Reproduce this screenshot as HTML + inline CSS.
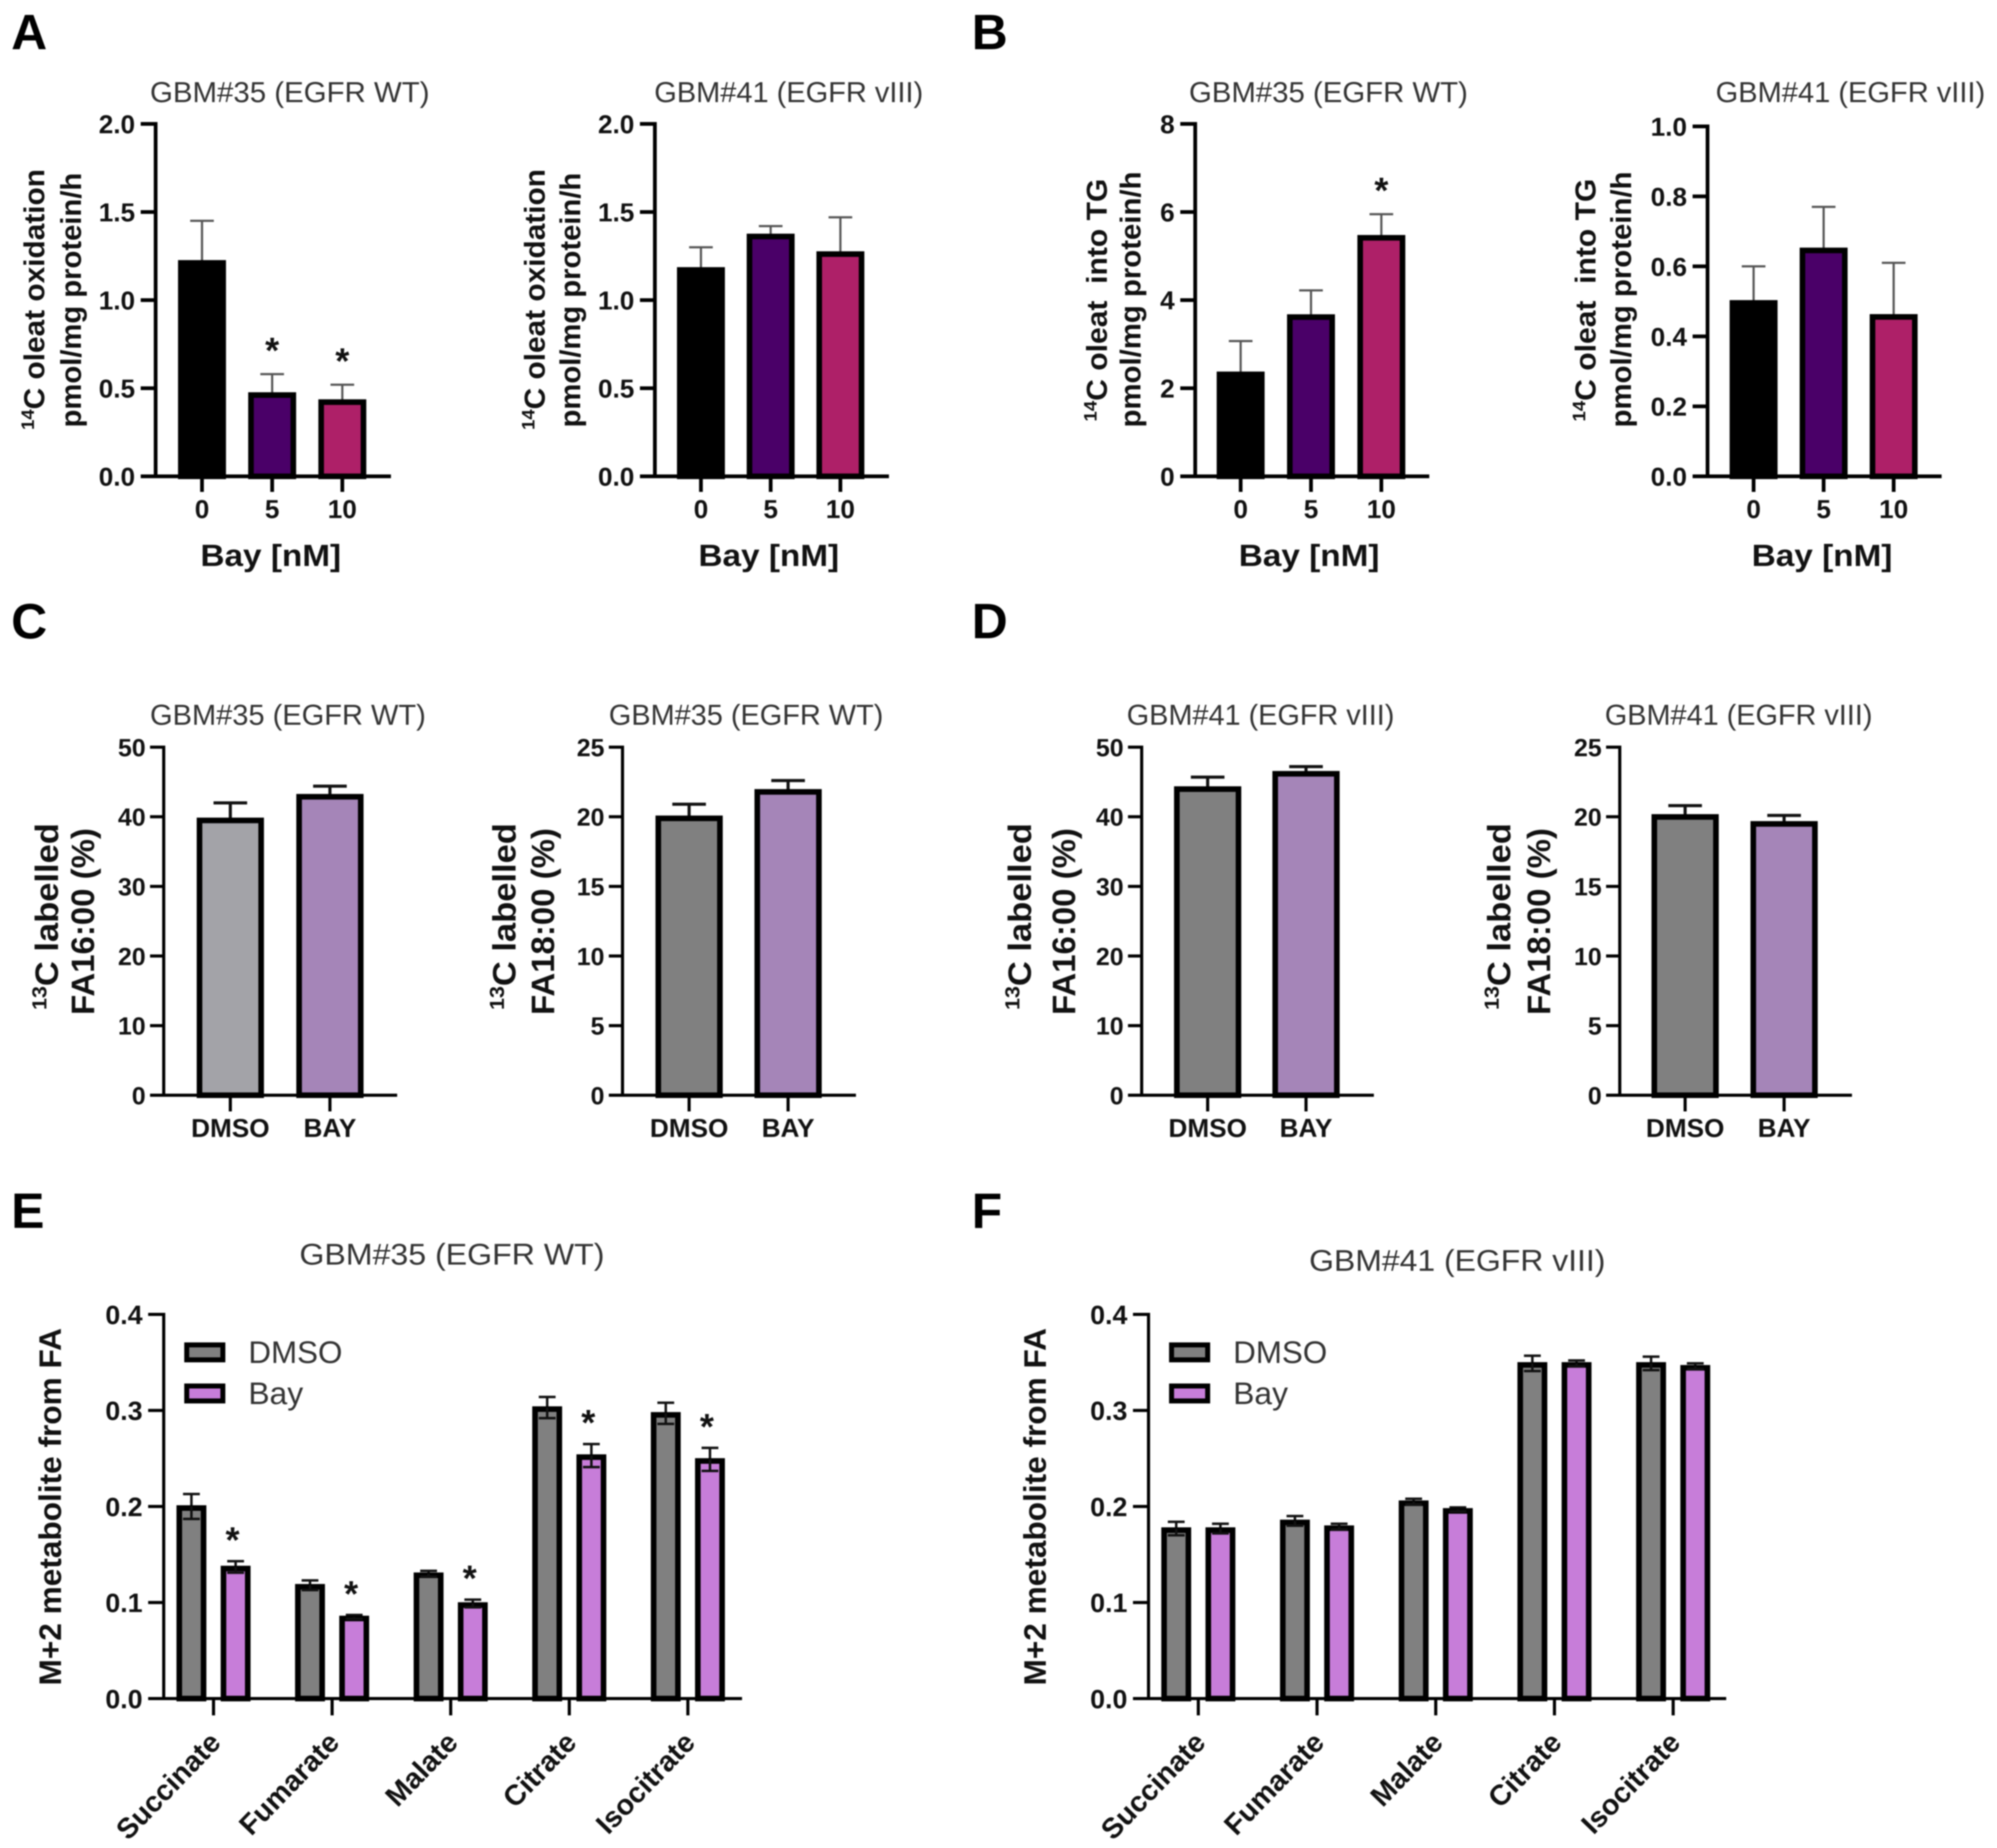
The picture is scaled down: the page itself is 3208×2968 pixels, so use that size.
<!DOCTYPE html>
<html lang="en">
<head>
<meta charset="utf-8">
<title>Bay treatment fatty acid metabolism figure</title>
<style>
html,body{margin:0;padding:0;background:#fff;width:3208px;height:2968px;overflow:hidden}
svg{display:block;filter:blur(1.1px)}
text{font-family:"Liberation Sans",Arial,sans-serif;white-space:pre}
</style>
</head>
<body>
<svg id="figure" xmlns="http://www.w3.org/2000/svg" width="3208" height="2968" viewBox="0 0 3208 2968"></svg>
<script>
// ---------- categories ----------
const doseCategories = ['0', '5', '10'];
const treatmentCategories = ['DMSO', 'BAY'];
const metaboliteCategories = ['Succinate', 'Fumarate', 'Malate', 'Citrate', 'Isocitrate'];
// ---------- tick labels ----------
const oxidationTicks = ['0.0', '0.5', '1.0', '1.5', '2.0'];
const tgTicksB1 = ['0', '2', '4', '6', '8'];
const tgTicksB2 = ['0.0', '0.2', '0.4', '0.6', '0.8', '1.0'];
const fa16Ticks = ['0', '10', '20', '30', '40', '50'];
const fa18Ticks = ['0', '5', '10', '15', '20', '25'];
const metaboliteTicks = ['0.0', '0.1', '0.2', '0.3', '0.4'];
// ---------- series values ----------
const a1Values = [1.22, 0.47, 0.43];
const a1Errors = [0.23, 0.11, 0.09];
const a2Values = [1.18, 1.37, 1.27];
const a2Errors = [0.12, 0.05, 0.20];
const b1Values = [2.35, 3.65, 5.45];
const b1Errors = [0.72, 0.57, 0.50];
const b2Values = [0.50, 0.65, 0.46];
const b2Errors = [0.10, 0.12, 0.15];
const c1Values = [39.7, 43.1];
const c1Errors = [2.3, 1.3];
const c2Values = [20.0, 21.9];
const c2Errors = [0.9, 0.7];
const d1Values = [44.2, 46.4];
const d1Errors = [1.5, 0.8];
const d2Values = [20.1, 19.6];
const d2Errors = [0.7, 0.5];
const eDmsoValues = [0.200, 0.118, 0.130, 0.303, 0.297];
const eDmsoErrors = [0.013, 0.005, 0.003, 0.011, 0.011];
const eBayValues = [0.137, 0.085, 0.099, 0.253, 0.249];
const eBayErrors = [0.006, 0.002, 0.004, 0.012, 0.012];
const fDmsoValues = [0.177, 0.185, 0.205, 0.349, 0.349];
const fDmsoErrors = [0.007, 0.005, 0.003, 0.008, 0.007];
const fBayValues = [0.177, 0.179, 0.197, 0.349, 0.346];
const fBayErrors = [0.005, 0.003, 0.002, 0.003, 0.003];
// ---------- significance flags ----------
const a1Stars = [false, true, true];
const b1Stars = [false, false, true];
const eStars = [true, true, true, true, true];

const NS = 'http://www.w3.org/2000/svg';
const svg = document.getElementById('figure');
const doseColors = ['#000000', '#4a0068', '#ae2068'];

function node(parent, tag, attrs) {
  const el = document.createElementNS(NS, tag);
  for (const k in attrs) el.setAttribute(k, attrs[k]);
  parent.appendChild(el);
  return el;
}
function line(parent, x1, y1, x2, y2, stroke, w) {
  return node(parent, 'line', {x1: x1, y1: y1, x2: x2, y2: y2, stroke: stroke, 'stroke-width': w});
}
function label(parent, str, x, y, opts) {
  const o = opts || {};
  const a = {x: 0, y: 0, 'font-size': o.size || 40, 'font-weight': o.weight || 'bold', fill: o.fill || '#111',
    'text-anchor': o.anchor || 'middle', transform: 'translate(' + x + ',' + y + ') rotate(' + (o.rot || 0) + ')'};
  if (o.len) { a.textLength = o.len; a.lengthAdjust = 'spacingAndGlyphs'; }
  const el = node(parent, 'text', a);
  el.textContent = str;
  return el;
}
function supLabel(parent, sup, str, x, y, opts) {
  // Rotated y-axis line with a superscript isotope number.
  const a = {x: 0, y: 0, 'font-size': opts.size, 'font-weight': 'bold', fill: '#111', 'text-anchor': 'middle',
    transform: 'translate(' + x + ',' + y + ') rotate(-90)', textLength: opts.len, lengthAdjust: 'spacingAndGlyphs'};
  const el = node(parent, 'text', a);
  const s = node(el, 'tspan', {'font-size': opts.size * 0.62, dy: -opts.size * 0.36});
  s.textContent = sup;
  const t = node(el, 'tspan', {dy: opts.size * 0.36});
  t.textContent = str;
  return el;
}
function yScale(p, v) {
  return p.y0 - (v / p.yMax) * (p.y0 - p.yTop);
}
function xScale(p, i) {
  return p.x0 + i * p.step;
}

function drawAxes(g, p) {
  const axisY = node(g, 'line', {x1: p.axis, y1: p.yTop - p.axisW / 2, x2: p.axis, y2: p.y0 + p.axisW / 2, stroke: '#000', 'stroke-width': p.axisW});
  
  
  const axisX = line(g, p.axis - p.tickLen, p.y0, p.end, p.y0, '#000', p.axisW);
  
  
  p.ticks.forEach(function (t) {
    const y = yScale(p, parseFloat(t));
    const tick = line(g, p.axis - p.tickLen, y, p.axis, y, '#000', p.axisW);
    
    
    const tl = label(g, t, p.axis - p.tickLen - p.tickGap, y + p.tickSize * 0.36, {size: p.tickSize, anchor: 'end'});
    
    
  });
}

function drawBar(g, cx, p, value, err, fill, name) {
  const w = p.barW, sw = p.barStroke;
  const top = yScale(p, value);
  const errTop = yScale(p, value + err);
  const eb = node(g, 'g', {});
  
  
  line(eb, cx, errTop, cx, top, p.errColor, p.errW);
  line(eb, cx - p.capW / 2, errTop, cx + p.capW / 2, errTop, p.errColor, p.errW);
  const rect = node(g, 'rect', {x: cx - w / 2 + sw / 2, y: top + sw / 2 - 2, width: w - sw, height: Math.max(0, p.y0 - top - sw / 2 + 2), fill: fill, stroke: '#000', 'stroke-width': sw});
  
  
  if (p.errBoth) {
    const low = yScale(p, value - err);
    const lo = node(g, 'g', {});
    
    
    line(lo, cx, top, cx, low, p.errColor, p.errW);
    line(lo, cx - p.capW / 2, low, cx + p.capW / 2, low, p.errColor, p.errW);
  }
}
function drawStar(g, cx, p, topValue, offset) {
  const s = label(g, '*', cx + (p.starDx || 0), yScale(p, topValue) - offset + 32, {size: 58, weight: 'bold'});
  
  
}

function drawPanel(p) {
  const g = node(svg, 'g', {});
  
  
  const title = label(g, p.title, p.titleX, p.titleY, {size: 46, weight: 'normal', fill: '#333', anchor: 'start', len: p.titleLen});
  
  
  p.values.forEach(function (v, i) {
    const cx = xScale(p, i);
    drawBar(g, cx, p, v, p.errors[i], p.colors[i], 'bar-' + p.id + '-' + p.categories[i]);
    if (p.stars && p.stars[i]) drawStar(g, cx, p, v + p.errors[i], p.starOffset);
  });
  drawAxes(g, p);
  p.categories.forEach(function (c, i) {
    const cx = xScale(p, i);
    const tick = line(g, cx, p.y0, cx, p.y0 + p.xTickLen, '#000', p.axisW);
    
    
    const tl = label(g, c, cx, p.catY, {size: p.catSize});
    
    
  });
  if (p.xTitle) {
    const xt = label(g, p.xTitle, p.xTitleX, p.xTitleY, {size: 49, len: p.xTitleLen});
    
    
  }
  const y1 = supLabel(g, p.ySup, p.yLine1, p.axis + p.y1Off, p.y1Mid, {size: p.ySize, len: p.y1Len});
  
  
  const y2 = label(g, p.yLine2, p.axis + p.y2Off, p.y2Mid, {size: p.ySize, rot: -90, len: p.y2Len});
  
  
}

function drawGrouped(p) {
  const g = node(svg, 'g', {});
  
  
  const title = label(g, p.title, p.titleX, p.titleY, {size: 48, weight: 'normal', fill: '#333', anchor: 'start', len: p.titleLen});
  
  
  p.categories.forEach(function (c, i) {
    const cx = xScale(p, i);
    drawBar(g, cx - p.groupOff, p, p.dmso[i], p.dmsoErr[i], '#808080', 'bar-' + p.id + '-dmso-' + c);
    drawBar(g, cx + p.groupOff, p, p.bay[i], p.bayErr[i], '#c77dd9', 'bar-' + p.id + '-bay-' + c);
    if (p.stars && p.stars[i]) drawStar(g, cx + p.groupOff, p, p.bay[i] + p.bayErr[i], p.starOffset);
    const tick = line(g, cx, p.y0, cx, p.y0 + p.xTickLen, '#000', p.axisW);
    
    
    const tl = label(g, c, cx + 14, 2801, {size: 46, anchor: 'end', rot: -46});
    
    
  });
  drawAxes(g, p);
  const yt = label(g, p.yTitle, p.axis - 165, 2420, {size: 50, rot: -90, len: 574});
  
  
  const entries = [['DMSO', '#808080', 2172, 2189, 151], ['Bay', '#c77dd9', 2238, 2255, 88]];
  entries.forEach(function (e) {
    const entry = node(g, 'g', {});
    
    
    node(entry, 'rect', {x: p.axis + 37, y: e[2] - 12, width: 58, height: 24, fill: e[1], stroke: '#000', 'stroke-width': 8});
    label(entry, e[0], p.axis + 136, e[3], {size: 50, weight: 'normal', fill: '#333', anchor: 'start', len: e[4]});
  });
}

const bayStyle = {yTop: 199, y0: 765, barW: 77, barStroke: 9, axisW: 6, tickLen: 24, tickGap: 9, tickSize: 42, xTickLen: 25,
  errColor: '#555', errW: 3.5, capW: 38, catY: 832, catSize: 42, xTitle: 'Bay [nM]', xTitleY: 909, xTitleLen: 226, starOffset: 50, ySize: 46};
const faStyle = {yTop: 1200, y0: 1759, barW: 108, barStroke: 9, axisW: 5, tickLen: 22, tickGap: 7, tickSize: 40, xTickLen: 26,
  errColor: '#111', errW: 5, capW: 54, catY: 1826, catSize: 42, ySup: '13', yLine1: 'C labelled', y1Mid: 1472, y2Mid: 1480, y1Len: 300, y2Len: 300, ySize: 52};

drawPanel(Object.assign({}, bayStyle, {id: 'a1', title: 'GBM#35 (EGFR WT)', titleX: 241, titleY: 164, titleLen: 449,
  axis: 250, end: 628, x0: 324.5, step: 112.7, yMax: 2, ticks: oxidationTicks, categories: doseCategories, values: a1Values, errors: a1Errors, colors: doseColors, stars: a1Stars,
  xTitleX: 435, ySup: '14', yLine1: 'C oleat oxidation', yLine2: 'pmol/mg protein/h', y1Off: -179, y2Off: -120, y1Mid: 481, y2Mid: 482, y1Len: 419, y2Len: 409}));
drawPanel(Object.assign({}, bayStyle, {id: 'a2', title: 'GBM#41 (EGFR vIII)', titleX: 1051, titleY: 164, titleLen: 432,
  axis: 1052, end: 1428, x0: 1126, step: 112, yMax: 2, ticks: oxidationTicks, categories: doseCategories, values: a2Values, errors: a2Errors, colors: doseColors,
  xTitleX: 1235, ySup: '14', yLine1: 'C oleat oxidation', yLine2: 'pmol/mg protein/h', y1Off: -177, y2Off: -120, y1Mid: 481, y2Mid: 482, y1Len: 419, y2Len: 409}));
drawPanel(Object.assign({}, bayStyle, {id: 'b1', title: 'GBM#35 (EGFR WT)', titleX: 1910, titleY: 164, titleLen: 448,
  axis: 1920, end: 2296, x0: 1993, step: 113, yMax: 8, ticks: tgTicksB1, categories: doseCategories, values: b1Values, errors: b1Errors, colors: doseColors, stars: b1Stars,
  xTitleX: 2103, ySup: '14', yLine1: 'C oleat  into TG', yLine2: 'pmol/mg protein/h', y1Off: -142, y2Off: -88, y1Mid: 482, y2Mid: 481, y1Len: 390, y2Len: 411}));
drawPanel(Object.assign({}, bayStyle, {id: 'b2', title: 'GBM#41 (EGFR vIII)', titleX: 2756, titleY: 164, titleLen: 433, yTop: 203,
  axis: 2743, end: 3119, x0: 2817, step: 112.5, yMax: 1, ticks: tgTicksB2, categories: doseCategories, values: b2Values, errors: b2Errors, colors: doseColors,
  xTitleX: 2927, ySup: '14', yLine1: 'C oleat  into TG', yLine2: 'pmol/mg protein/h', y1Off: -180, y2Off: -123, y1Mid: 482, y2Mid: 481, y1Len: 390, y2Len: 411}));
drawPanel(Object.assign({}, faStyle, {id: 'c1', title: 'GBM#35 (EGFR WT)', titleX: 241, titleY: 1164, titleLen: 443,
  axis: 263, end: 638, x0: 370, step: 160, yMax: 50, ticks: fa16Ticks, categories: treatmentCategories, values: c1Values, errors: c1Errors, colors: ['#a3a3a8', '#a585b8'],
  yLine2: 'FA16:00 (%)', y1Off: -170, y2Off: -112}));
drawPanel(Object.assign({}, faStyle, {id: 'c2', title: 'GBM#35 (EGFR WT)', titleX: 978, titleY: 1164, titleLen: 441,
  axis: 1000, end: 1375, x0: 1107, step: 159, yMax: 25, ticks: fa18Ticks, categories: treatmentCategories, values: c2Values, errors: c2Errors, colors: ['#808080', '#a585b8'],
  yLine2: 'FA18:00 (%)', y1Off: -172, y2Off: -110}));
drawPanel(Object.assign({}, faStyle, {id: 'd1', title: 'GBM#41 (EGFR vIII)', titleX: 1810, titleY: 1164, titleLen: 430,
  axis: 1834, end: 2207, x0: 1940, step: 158, yMax: 50, ticks: fa16Ticks, categories: treatmentCategories, values: d1Values, errors: d1Errors, colors: ['#808080', '#a585b8'],
  yLine2: 'FA16:00 (%)', y1Off: -178, y2Off: -107}));
drawPanel(Object.assign({}, faStyle, {id: 'd2', title: 'GBM#41 (EGFR vIII)', titleX: 2578, titleY: 1164, titleLen: 430,
  axis: 2602, end: 2975, x0: 2707, step: 159, yMax: 25, ticks: fa18Ticks, categories: treatmentCategories, values: d2Values, errors: d2Errors, colors: ['#808080', '#a585b8'],
  yLine2: 'FA18:00 (%)', y1Off: -176, y2Off: -112}));

const metaStyle = {yTop: 2111, y0: 2728, barW: 48, barStroke: 9, axisW: 5, tickLen: 25, tickGap: 9, tickSize: 43, xTickLen: 27,
  errColor: '#111', errW: 4, capW: 27, groupOff: 35.5, starOffset: 46, starDx: -5, categories: metaboliteCategories, ticks: metaboliteTicks, yMax: 0.4, yTitle: 'M+2 metabolite from FA'};
drawGrouped(Object.assign({}, metaStyle, {id: 'e', title: 'GBM#35 (EGFR WT)', titleX: 481, titleY: 2031, titleLen: 490,
  axis: 263, end: 1192, x0: 343, step: 190.5, dmso: eDmsoValues, dmsoErr: eDmsoErrors, bay: eBayValues, bayErr: eBayErrors, stars: eStars, errBoth: true}));
drawGrouped(Object.assign({}, metaStyle, {id: 'f', title: 'GBM#41 (EGFR vIII)', titleX: 2103, titleY: 2041, titleLen: 476,
  axis: 1845, end: 2773, x0: 1925, step: 190.7, dmso: fDmsoValues, dmsoErr: fDmsoErrors, bay: fBayValues, bayErr: fBayErrors, errBoth: true}));

[['A', 18, 79], ['B', 1561, 79], ['C', 18, 1025], ['D', 1561, 1025], ['E', 18, 1972], ['F', 1561, 1972]].forEach(function (l) {
  const t = label(svg, l[0], l[1], l[2], {size: 80, anchor: 'start', fill: '#000'});
  
  
});
</script>
</body>
</html>
